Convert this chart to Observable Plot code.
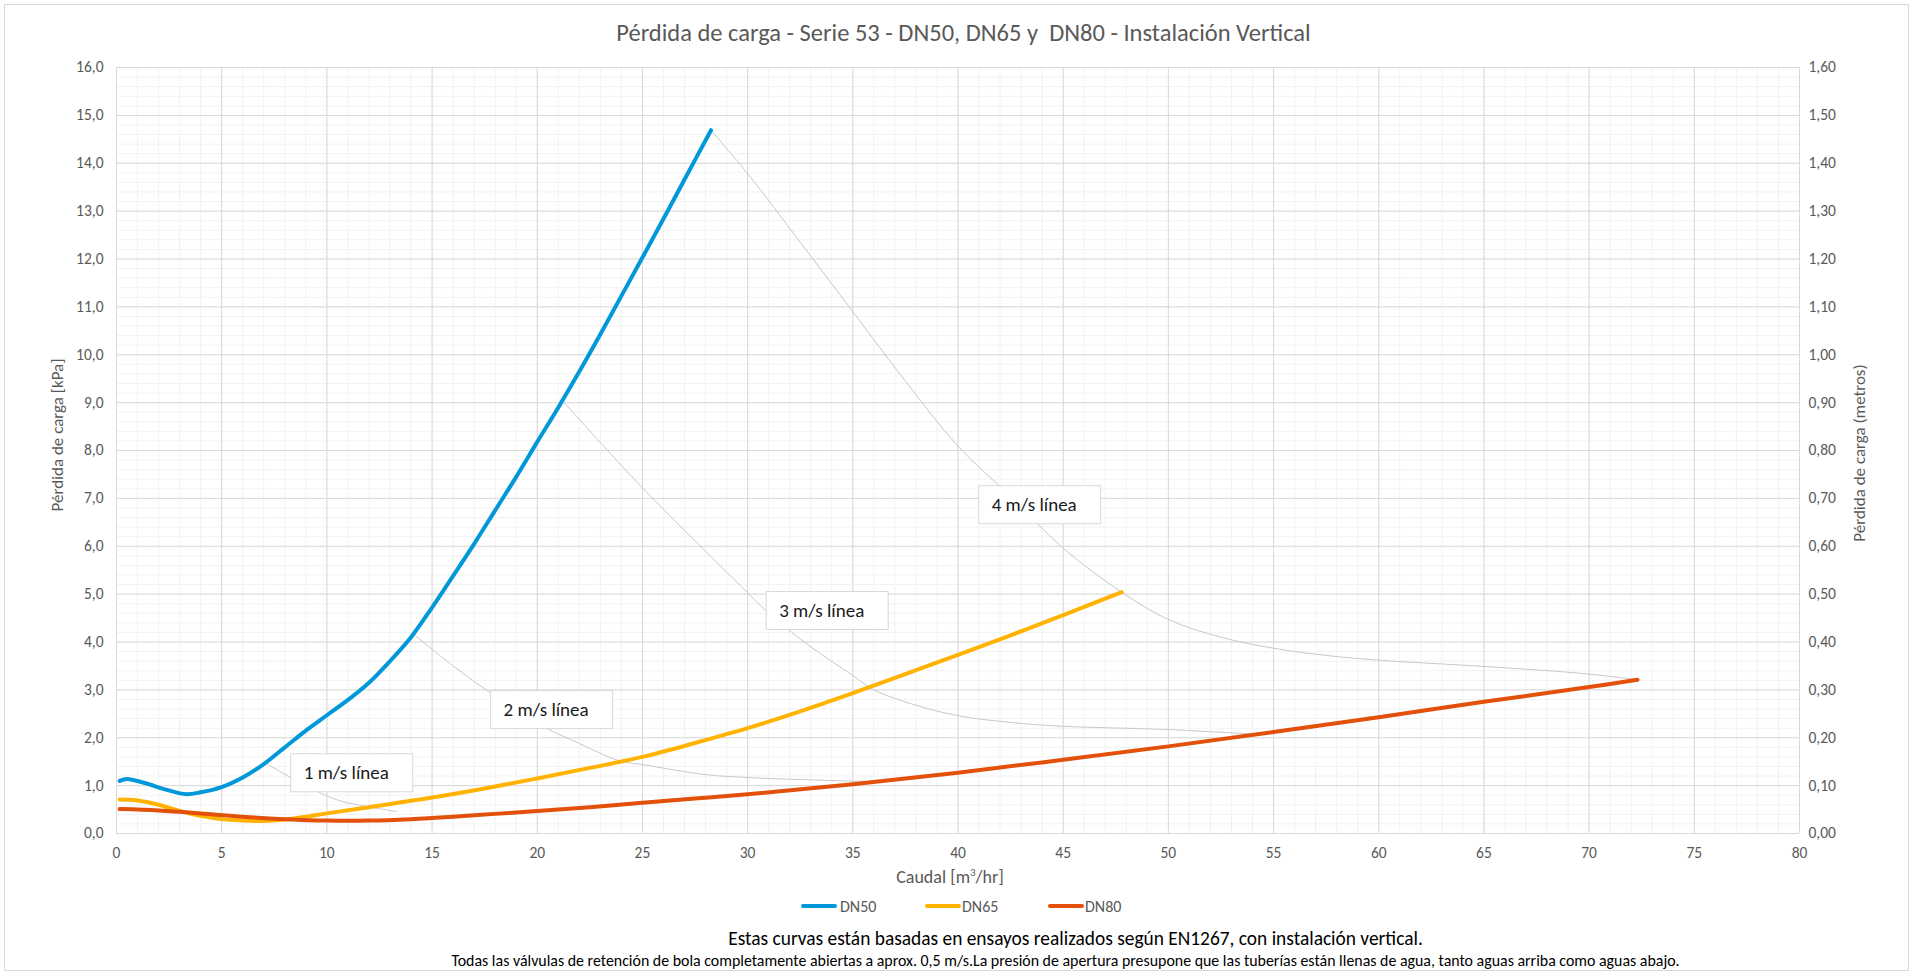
<!DOCTYPE html>
<html><head><meta charset="utf-8">
<script src="https://cdn.jsdelivr.net/npm/d3@7"></script>
<script src="https://cdn.jsdelivr.net/npm/@observablehq/plot@0.6"></script>
<style>
body{margin:0;background:#fff;}
#wrap{position:relative;width:1915px;height:974px;overflow:hidden;font-family:Carlito,Calibri,Lato,sans-serif;color:#595959;}
#frame{position:absolute;left:4px;top:4px;width:1905px;height:967px;border:1px solid #d9d9d9;box-sizing:border-box;}
#chart{position:absolute;left:0;top:0;}
.abs{position:absolute;white-space:nowrap;}
#title{left:6px;width:1915px;top:33px;transform:translateY(-50%);text-align:center;font-size:24.5px;color:#595959;}
#ylab{left:57px;top:435px;transform:translate(-50%,-50%) rotate(-90deg);font-size:17px;}
#ylab2{left:1859px;top:453px;transform:translate(-50%,-50%) rotate(-90deg);font-size:17px;}
#xlab{left:950px;top:877px;transform:translate(-50%,-50%);font-size:18px;}
.leg{position:absolute;height:4px;top:904px;border-radius:2px;}
.legt{position:absolute;top:906px;transform:translateY(-50%);font-size:16px;}
#cap1{left:118px;width:1915px;text-align:center;top:938px;transform:translateY(-50%);font-size:19.4px;color:#000;}
#cap2{left:108px;width:1915px;text-align:center;top:960px;transform:translateY(-50%);font-size:15.9px;color:#000;}
</style></head><body>
<div id="wrap">
  <div id="frame"></div>
  <div id="chart"></div>
  <div id="title" class="abs">Pérdida de carga - Serie 53 - DN50, DN65 y&nbsp; DN80 - Instalación Vertical</div>
  <div id="ylab" class="abs">Pérdida de carga [kPa]</div>
  <div id="ylab2" class="abs">Pérdida de carga (metros)</div>
  <div id="xlab" class="abs">Caudal [m<sup style="font-size:11px">3</sup>/hr]</div>
  <div id="legend"></div>
  <div id="cap1" class="abs">Estas curvas están basadas en ensayos realizados según EN1267, con instalación vertical.</div>
  <div id="cap2" class="abs">Todas las válvulas de retención de bola completamente abiertas a aprox. 0,5 m/s.La presión de apertura presupone que las tuberías están llenas de agua, tanto aguas arriba como aguas abajo.</div>
</div>
<script>
// ---- data: [caudal m3/h, pérdida kPa] ----
const dn50 = [[0.15,1.1],[0.5,1.14],[1.3,1.06],[2.4,0.91],[3.3,0.82],[4.0,0.86],[5,0.97],[6,1.17],[7,1.45],[8,1.8],[9,2.15],[10,2.47],[11,2.79],[12,3.15],[13,3.6],[14,4.1],[15,4.72],[16,5.38],[17,6.05],[18,6.75],[19,7.45],[20,8.18],[21,8.9],[22,9.65],[23,10.43],[24,11.23],[25,12.03],[26,12.84],[27,13.66],[28.26,14.69]];
const dn65 = [[0.15,0.71],[1,0.69],[2,0.6],[3,0.47],[4,0.37],[5,0.3],[6,0.27],[7,0.26],[8,0.29],[9,0.35],[10,0.42],[12,0.55],[15,0.75],[17.5,0.94],[20,1.15],[22.5,1.37],[25,1.6],[27.5,1.89],[30,2.2],[32.5,2.55],[35,2.93],[37.5,3.33],[40,3.73],[42.5,4.14],[45,4.56],[47.78,5.04]];
const dn80 = [[0.15,0.51],[2,0.48],[4,0.42],[6,0.35],[8,0.3],[10,0.27],[12,0.27],[14,0.3],[16,0.35],[18,0.41],[20,0.47],[22.5,0.55],[25,0.64],[27.5,0.73],[30,0.82],[35,1.03],[40,1.27],[45,1.54],[50,1.82],[55,2.12],[60,2.43],[65,2.75],[70,3.06],[72.3,3.21]];
const v1 = [[7.07,1.47],[9,1.0],[10.5,0.7],[11.94,0.56],[13.3,0.46]];
const v2 = [[14.1,4.17],[16,3.5],[18,2.87],[20,2.3],[22,1.88],[23.9,1.52],[25,1.44],[28,1.23],[30,1.17],[33,1.12],[36.2,1.08]];
const v3 = [[21.2,9.04],[25,7.22],[30,5.03],[31,4.6],[33,3.9],[35,3.3],[36,3.0],[38,2.68],[40,2.46],[42.5,2.32],[45,2.24],[50,2.17],[54.3,2.07]];
const v4 = [[28.26,14.69],[30.1,13.73],[32.5,12.35],[35,10.9],[37.5,9.45],[40,8.09],[42.5,7.04],[45,5.96],[47.78,5.04],[50,4.47],[52.5,4.1],[55,3.87],[57.5,3.72],[60,3.62],[65,3.49],[70,3.33],[72.3,3.21]];
const seriesNames = ["DN50","DN65","DN80"];
const seriesColors = ["#0098d8","#ffb300","#e2500a"];
const velLabels = ["1 m/s línea","2 m/s línea","3 m/s línea","4 m/s línea"];
const velLabelQ = [8.9, 18.4, 31.5, 41.6];
const velLabelP = [1.26, 2.58, 4.65, 6.86];
const xTicks = [0,5,10,15,20,25,30,35,40,45,50,55,60,65,70,75,80];
const yTicks = [0,1,2,3,4,5,6,7,8,9,10,11,12,13,14,15,16];
const yLeftLabels = ["0,0","1,0","2,0","3,0","4,0","5,0","6,0","7,0","8,0","9,0","10,0","11,0","12,0","13,0","14,0","15,0","16,0"];
const yRightLabels = ["0,00","0,10","0,20","0,30","0,40","0,50","0,60","0,70","0,80","0,90","1,00","1,10","1,20","1,30","1,40","1,50","1,60"];
const xMinor = d3.range(0, 81, 1);
const yMinor = d3.range(0, 80.5, 1).map(d => d / 5);

const FONT = "Carlito, Calibri, Lato, sans-serif";
const W = 1915, SVGH = 900;
const P = d => d[1], Q = d => d[0];
const labelData = velLabels.map((t, i) => ({t, q: velLabelQ[i], p: velLabelP[i]}));

const plot = Plot.plot({
  width: W, height: SVGH,
  marginTop: 67, marginBottom: SVGH - 833, marginLeft: 116, marginRight: 116,
  x: {domain: [0, 80]},
  y: {domain: [0, 16]},
  style: {fontFamily: FONT, fontSize: "15.5px", color: "#595959", background: "transparent", overflow: "visible"},
  marks: [
    Plot.ruleX(xMinor, {stroke: "#f2f2f2", strokeWidth: 1}),
    Plot.ruleY(yMinor, {stroke: "#f2f2f2", strokeWidth: 1}),
    Plot.ruleX(xTicks, {stroke: "#d9d9d9", strokeWidth: 1}),
    Plot.ruleY(yTicks, {stroke: "#d9d9d9", strokeWidth: 1}),
    ...[v1, v2, v3, v4].map(v => Plot.line(v, {x: Q, y: P, stroke: "#c8c8c8", strokeWidth: 1, curve: "catmull-rom"})),
    ...[dn50, dn65, dn80].map((s, i) => Plot.line(s, {x: Q, y: P, stroke: seriesColors[i], strokeWidth: 4, curve: "catmull-rom", strokeLinecap: "round"})),
    Plot.text(labelData, {x: "q", y: "p", text: "t", textAnchor: "start", fill: "#1a1a1a", fontSize: 19}),
    Plot.axisX({ticks: xTicks, tickSize: 0, tickPadding: 13, tickFormat: d => String(d), label: null, fill: "#595959"}),
    Plot.axisY({ticks: yTicks, tickSize: 0, tickPadding: 13, tickFormat: d => yLeftLabels[yTicks.indexOf(d)], label: null, fill: "#595959"}),
    Plot.axisY({anchor: "right", ticks: yTicks, tickSize: 0, tickPadding: 9, tickFormat: d => yRightLabels[yTicks.indexOf(d)], label: null, fill: "#595959"})
  ]
});
document.getElementById("chart").appendChild(plot);

// legend
const legPos = [[801, 840], [925, 962], [1048, 1085]];
const legend = document.getElementById("legend");
seriesNames.forEach((n, i) => {
  const l = document.createElement("div");
  l.className = "leg"; l.style.left = legPos[i][0] + "px"; l.style.width = "36px"; l.style.background = seriesColors[i];
  legend.appendChild(l);
  const t = document.createElement("div");
  t.className = "legt"; t.style.left = legPos[i][1] + "px"; t.textContent = n;
  legend.appendChild(t);
});

// white boxes behind the velocity labels
const ns = "http://www.w3.org/2000/svg";
Array.from(plot.querySelectorAll("text")).filter(t => velLabels.includes(t.textContent)).forEach(t => {
  const b = t.getBBox();
  const g = t.parentNode;
  const r = document.createElementNS(ns, "rect");
  r.setAttribute("x", b.x - 13); r.setAttribute("y", b.y + b.height / 2 - 19);
  r.setAttribute("width", 122); r.setAttribute("height", 38);
  r.setAttribute("fill", "#fff"); r.setAttribute("stroke", "#d9d9d9");
  const tr = t.getAttribute("transform");
  if (tr) r.setAttribute("transform", tr);
  g.insertBefore(r, t);
});
</script>
</body></html>
